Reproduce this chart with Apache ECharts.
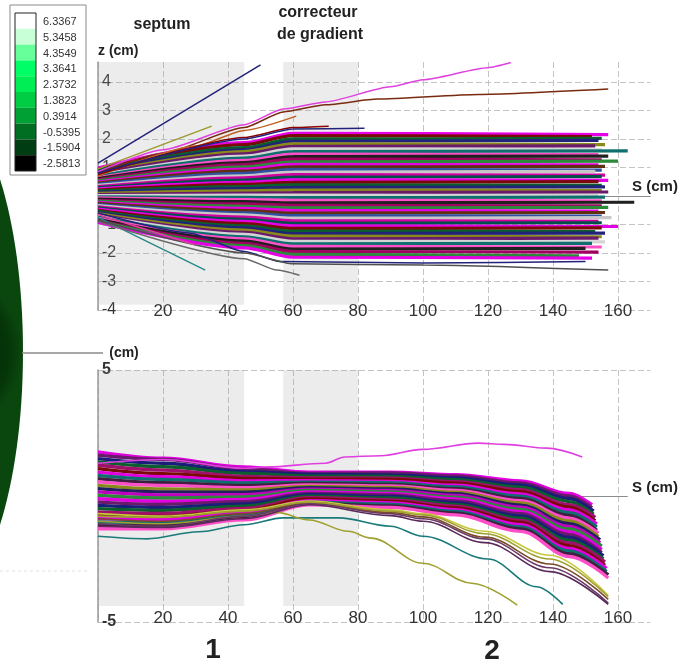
<!DOCTYPE html>
<html><head><meta charset="utf-8">
<script src="https://cdn.jsdelivr.net/npm/echarts@6/dist/echarts.min.js"></script>
<style>html,body{margin:0;padding:0;background:#fff}#c{width:682px;height:668px}</style>
</head><body><div id="c"></div>
<script>
// ---------- colour key ----------
const colorbarLabels = ['6.3367','5.3458','4.3549','3.3641','2.3732','1.3823','0.3914','-0.5395','-1.5904','-2.5813'];
const colorbarColors = ['#ffffff','#c8ffd6','#66ff99','#00ff66','#00ee55','#00cc44','#00a035','#006e22','#003d12','#000000'];

// ---------- shaded elements (s ranges, cm) ----------
const shadeRanges = [[0, 45], [57, 80]];

// ---------- top panel: z (cm) vs s (cm) ----------
const topS = [0, 45, 60];               // s of first three samples, last sample at topEndS
const topZ = [
[0.98,1.87,2.20,2.15],[0.93,1.80,2.12,2.08],[0.90,1.70,2.00,2.02],[0.85,1.62,1.92,1.95],
[0.80,1.56,1.83,1.80],[0.78,1.48,1.74,1.76],[0.72,1.40,1.65,1.62],[0.69,1.33,1.56,1.58],
[0.64,1.25,1.47,1.45],[0.61,1.17,1.38,1.40],[0.57,1.10,1.29,1.27],[0.53,1.02,1.20,1.22],
[0.49,0.94,1.11,1.09],[0.45,0.87,1.02,1.04],[0.41,0.79,0.93,0.91],[0.37,0.71,0.84,0.86],
[0.33,0.64,0.75,0.73],[0.29,0.56,0.66,0.68],[0.25,0.48,0.57,0.55],[0.21,0.41,0.48,0.50],
[0.17,0.33,0.39,0.37],[0.13,0.26,0.30,0.32],[0.09,0.18,0.21,0.19],[0.05,0.10,0.12,0.14],
[0.01,0.03,0.03,0.01],[-0.03,-0.05,-0.06,-0.04],[-0.07,-0.13,-0.15,-0.17],[-0.11,-0.20,-0.24,-0.22],
[-0.15,-0.28,-0.33,-0.35],[-0.18,-0.36,-0.42,-0.40],[-0.22,-0.43,-0.51,-0.53],[-0.26,-0.51,-0.60,-0.58],
[-0.30,-0.59,-0.69,-0.71],[-0.34,-0.66,-0.78,-0.76],[-0.38,-0.74,-0.87,-0.89],[-0.42,-0.82,-0.96,-0.94],
[-0.46,-0.89,-1.05,-1.07],[-0.50,-0.97,-1.14,-1.12],[-0.54,-1.05,-1.23,-1.25],[-0.58,-1.12,-1.32,-1.30],
[-0.62,-1.20,-1.41,-1.43],[-0.66,-1.28,-1.50,-1.48],[-0.70,-1.35,-1.59,-1.61],[-0.74,-1.43,-1.68,-1.66],
[-0.78,-1.50,-1.77,-1.79],[-0.82,-1.58,-1.86,-1.84],[-0.86,-1.66,-1.95,-1.97],[-0.88,-1.74,-2.05,-2.10],
[-0.92,-1.82,-2.15,-2.18]
];
const topEndS = [157,152,155,154,156,153,155,163,154,157,155,160,154,156,155,153,156,155,157,154,155,156,155,157,154,156,155,165,155,157,154,156,155,158,154,155,160,155,153,156,155,154,156,152,155,150,154,148,152];

const topOutS = [
[0,50],[0,35],[0,20,45,57,70,90,100,120,127],[0,20,45,57,70,86,117,157],[0,30,45,61],
[0,45,60,71],[0,45,60,82],[0,33],[0,45,55,62],[0,28,45,56,100,150],[0,45,60,100,157],[0,30]
];
const topOutZ = [
[1.15,4.6],[0.95,2.45],[0.85,1.62,2.5,3.05,3.3,3.83,4.08,4.5,4.68],[0.8,1.5,2.4,2.95,3.2,3.4,3.56,3.75],[0.7,1.75,2.3,2.8],
[0.75,2.05,2.4,2.45],[0.8,2.0,2.35,2.38],[-0.75,-2.6],[-0.9,-2.2,-2.6,-2.78],[-0.6,-1.3,-1.95,-2.3,-2.35,-2.3],[-0.85,-2.0,-2.38,-2.42,-2.6],[-0.65,-1.72]
];
const topOutColors = ['#22227a','#9a9a30','#e040e0','#7a2a10','#c06020','#8b0000','#22227a','#2a8a8a','#6a6a6a','#22227a','#505050','#e040a0'];

// ---------- bottom panel ----------
const botS = [0, 20, 45, 65, 90, 110, 130, 145];
const botZ = [
[1.75,1.50,1.15,0.95,0.95,0.85,0.60,0.10],[1.62,1.45,1.08,0.90,0.92,0.80,0.52,0.00],
[1.48,1.30,0.97,0.86,0.84,0.72,0.44,-0.10],[1.35,1.16,0.90,0.79,0.78,0.65,0.35,-0.22],
[1.22,1.03,0.78,0.72,0.71,0.57,0.25,-0.34],[1.09,0.89,0.70,0.67,0.66,0.51,0.17,-0.44],
[0.95,0.77,0.60,0.61,0.58,0.43,0.08,-0.55],[0.82,0.66,0.52,0.55,0.53,0.36,-0.01,-0.66],
[0.69,0.53,0.42,0.50,0.46,0.29,-0.10,-0.77],[0.56,0.42,0.33,0.44,0.40,0.22,-0.18,-0.88],
[0.42,0.28,0.24,0.38,0.34,0.15,-0.27,-0.99],[0.29,0.16,0.15,0.33,0.28,0.09,-0.36,-1.10],
[0.16,0.04,0.05,0.27,0.22,0.02,-0.44,-1.21],[0.03,-0.08,-0.04,0.22,0.16,-0.05,-0.53,-1.31],
[-0.11,-0.21,-0.13,0.16,0.10,-0.12,-0.62,-1.42],[-0.24,-0.33,-0.22,0.10,0.04,-0.19,-0.70,-1.53],
[-0.37,-0.45,-0.31,0.05,-0.02,-0.26,-0.79,-1.64],[-0.50,-0.57,-0.40,-0.01,-0.08,-0.33,-0.88,-1.75],
[-0.64,-0.69,-0.49,-0.07,-0.15,-0.40,-0.97,-1.86],[-0.77,-0.81,-0.58,-0.12,-0.21,-0.47,-1.05,-1.97],
[-0.90,-0.94,-0.68,-0.18,-0.27,-0.54,-1.14,-2.08],[-1.03,-1.06,-0.77,-0.24,-0.33,-0.61,-1.23,-2.18],
[-1.17,-1.18,-0.86,-0.29,-0.39,-0.68,-1.31,-2.29],[-1.30,-1.30,-0.95,-0.35,-0.45,-0.75,-1.40,-2.40]
];
const botEndS = [152,152,152.5,152.5,153,153,153.5,153.5,153.5,154,154,154.5,154.5,155,155,155,155.5,155.5,156,156,156.5,156.5,157,157];
const botEndZ = [-0.35,-0.47,-0.60,-0.73,-0.85,-0.98,-1.11,-1.23,-1.36,-1.48,-1.61,-1.74,-1.86,-1.99,-2.12,-2.24,-2.37,-2.49,-2.62,-2.75,-2.87,-3.00,-3.13,-3.25];

const botOutS = [
[0,20,45,52,70,76,87,100,117,125,138,149],
[0,15,31,45,57,74,90,100,120,135,143],
[0,20,45,55,65,77,84,100,115,129],
[0,20,45,65,90,100,119,139,157],
[0,20,45,65,90,100,119,139,157],
[0,20,45,65,90,100,119,139,157],
[0,20,45,65,90,100,119,139,157],
[0,20,45,65,90,100,119,139,157]
];
const botOutZ = [
[1.3,1.45,1.1,1.15,1.3,1.55,1.6,1.85,2.1,2.05,1.9,1.55],
[-1.6,-1.7,-1.42,-1.14,-0.87,-0.87,-1.2,-1.6,-2.5,-3.6,-4.3],
[-1.0,-1.1,-0.8,-0.65,-0.95,-1.4,-1.67,-2.67,-3.46,-4.33],
[-1.1,-1.2,-0.8,-0.3,-0.7,-0.9,-1.7,-2.85,-4.25],
[-0.9,-1.0,-0.7,-0.25,-0.65,-0.83,-1.63,-2.7,-4.1],
[-1.2,-1.25,-0.9,-0.35,-0.78,-1.0,-1.85,-3.0,-4.3],
[-0.7,-0.8,-0.55,-0.2,-0.55,-0.7,-1.4,-2.35,-3.95],
[-0.8,-0.85,-0.6,-0.25,-0.6,-0.75,-1.5,-2.5,-4.0]
];
const botOutColors = ['#e040e0','#1a7a7a','#a0a030','#6a3a6a','#7a4a2a','#5a2a5a','#c8c840','#a0a030'];

// ---------- styles ----------
const topPalette = ['#e600e6','#7a0a0a','#0b5e2e','#22227a','#8a8a1a','#6a1a6a','#d4d4d4','#0f6f6f','#ff4fc8','#202020','#a00060','#2a8a3a','#e600e6','#603010','#3050a0','#c8c8c8','#d000a0','#00504a'];
const botPalette = ['#e000e0','#6a1a6a','#1c1c7a','#0b5e2e','#a0106a','#7a0a0a','#e000e0','#0f6f6f','#402040','#ff4fc8','#8a8a1a','#202060','#c000c0','#2a8a3a'];
const FONT = '"Liberation Sans", Arial, sans-serif';

const series = [];
series.push({
  type: 'line', xAxisIndex: 0, yAxisIndex: 0, data: [], silent: true, z: 1,
  markArea: { silent: true, z: 1, itemStyle: { color: 'rgba(160,160,160,0.2)' },
    data: shadeRanges.map(r => [{ xAxis: r[0], yAxis: 4.7 }, { xAxis: r[1], yAxis: -3.82 }]) },
  markLine: { silent: true, z: 1, symbol: 'none', label: { show: false },
    lineStyle: { color: '#8c8c8c', type: 'solid', width: 1.2 },
    data: [[{ coord: [0, 0] }, { coord: [170, 0] }]] }
});
series.push({
  type: 'line', xAxisIndex: 1, yAxisIndex: 1, data: [], silent: true, z: 1,
  markArea: { silent: true, z: 1, itemStyle: { color: 'rgba(160,160,160,0.2)' },
    data: shadeRanges.map(r => [{ xAxis: r[0], yAxis: 5 }, { xAxis: r[1], yAxis: -4.37 }]) },
  markLine: { silent: true, z: 1, symbol: 'none', label: { show: false },
    lineStyle: { color: '#8c8c8c', type: 'solid', width: 1.2 },
    data: [[{ coord: [0, 0] }, { coord: [163, 0] }]] }
});

function lineSeries(grid, data, color, width, smooth) {
  return { type: 'line', xAxisIndex: grid, yAxisIndex: grid, data: data, showSymbol: false, symbol: 'none',
    smooth: smooth, smoothMonotone: 'x', silent: true, z: 2, animation: false,
    lineStyle: { color: color, width: width } };
}

topZ.forEach((row, i) => {
  const d = topS.map((s, j) => [s, row[j]]);
  d.push([topEndS[i], row[3]]);
  series.push(lineSeries(0, d, topPalette[i % topPalette.length], 3.2, 0.3));
});
topOutS.forEach((ss, i) => {
  series.push(lineSeries(0, ss.map((s, j) => [s, topOutZ[i][j]]), topOutColors[i], 1.5, 0.2));
});
botZ.forEach((row, i) => {
  const d = botS.map((s, j) => [s, row[j]]);
  d.push([botEndS[i], botEndZ[i]]);
  series.push(lineSeries(1, d, botPalette[i % botPalette.length], 3.3, 0.35));
});
botOutS.forEach((ss, i) => {
  series.push(lineSeries(1, ss.map((s, j) => [s, botOutZ[i][j]]), botOutColors[i], 1.6, 0.35));
});

// ---------- graphic decorations ----------
const graphics = [];
graphics.push({ type: 'ellipse', silent: true, shape: { cx: -60, cy: 352, rx: 83, ry: 250 },
  style: { fill: new echarts.graphic.RadialGradient(0.5, 0.5, 0.5, [
    { offset: 0, color: '#001f03' }, { offset: 0.82, color: '#053509' }, { offset: 1, color: '#0a470e' }]) } });
graphics.push({ type: 'line', silent: true, shape: { x1: 22, y1: 353, x2: 103, y2: 353 }, style: { stroke: '#8a8a8a', lineWidth: 1.5 } });
graphics.push({ type: 'line', silent: true, shape: { x1: 0, y1: 571, x2: 90, y2: 571 }, style: { stroke: '#e2e2e2', lineWidth: 1, lineDash: [3, 3] } });
graphics.push({ type: 'rect', silent: true, shape: { x: 10, y: 5, width: 76, height: 170 }, style: { fill: '#fff', stroke: '#8a8a8a', lineWidth: 1 } });
colorbarColors.forEach((c, i) => {
  graphics.push({ type: 'rect', silent: true, shape: { x: 15, y: 13 + i * 15.8, width: 21, height: 15.8 }, style: { fill: c } });
  graphics.push({ type: 'text', silent: true, style: { text: colorbarLabels[i], x: 43, y: 22 + i * 15.8, font: '11px ' + FONT, fill: '#333', align: 'left', verticalAlign: 'middle' } });
});
graphics.push({ type: 'rect', silent: true, shape: { x: 15, y: 13, width: 21, height: 158 }, style: { fill: 'none', stroke: '#222', lineWidth: 1 } });
const texts = [
  ['septum', 162, 25, 'bold 16px'], ['correcteur', 318, 13, 'bold 16px'], ['de gradient', 320, 35, 'bold 16px'],
  ['S (cm)', 655, 187, 'bold 15px'], ['S (cm)', 655, 488, 'bold 15px'], ['(cm)', 124, 353, 'bold 14px'],
  ['1', 213, 650, 'bold 28px'], ['2', 492, 651, 'bold 28px']
];
texts.forEach(t => graphics.push({ type: 'text', silent: true, z: 10,
  style: { text: t[0], x: t[1], y: t[2], font: t[3] + ' ' + FONT, fill: '#222', align: 'center', verticalAlign: 'middle' } }));

const splitLine = (showMax) => ({ show: true, showMaxLine: showMax, lineStyle: { color: '#c4c4c4', type: [6, 3], width: 1 } });
const xLab = (m) => ({ margin: m, fontSize: 17, color: '#333', fontFamily: FONT,
  formatter: v => (v === 0 || v > 165) ? '' : String(v) });

const option = {
  animation: false,
  backgroundColor: '#ffffff',
  grid: [
    { left: 98, top: 62, width: 552.5, height: 248 },
    { left: 98, top: 370, width: 552.5, height: 252 }
  ],
  xAxis: [
    { type: 'value', gridIndex: 0, min: 0, max: 170, interval: 20, axisLine: { show: false }, axisTick: { show: false }, axisLabel: xLab(-7), splitLine: splitLine(false) },
    { type: 'value', gridIndex: 1, min: 0, max: 170, interval: 20, axisLine: { show: false }, axisTick: { show: false }, axisLabel: xLab(-12), splitLine: splitLine(false) }
  ],
  yAxis: [
    { type: 'value', gridIndex: 0, min: -4, max: 4.7, interval: 1,
      axisLine: { show: true, lineStyle: { color: '#9a9a9a', width: 1.5 } }, axisTick: { show: false },
      axisLabel: { inside: true, margin: 4, fontSize: 16, color: '#333', fontFamily: FONT, formatter: v => v > 4.5 ? '' : String(v) },
      splitLine: splitLine(false),
      name: 'z (cm)', nameLocation: 'end', nameGap: 4,
      nameTextStyle: { fontWeight: 'bold', fontSize: 14, color: '#222', align: 'left', fontFamily: FONT } },
    { type: 'value', gridIndex: 1, min: -5, max: 5, interval: 10,
      axisLine: { show: true, lineStyle: { color: '#9a9a9a', width: 1.5 } }, axisTick: { show: false },
      axisLabel: { inside: true, margin: 4, fontSize: 16, fontWeight: 'bold', color: '#333', fontFamily: FONT, showMinLabel: true, showMaxLabel: true },
      splitLine: splitLine(true) }
  ],
  graphic: graphics,
  series: series
};
const chart = echarts.init(document.getElementById('c'), null, { renderer: 'canvas' });
chart.setOption(option);
</script>
</body></html>
